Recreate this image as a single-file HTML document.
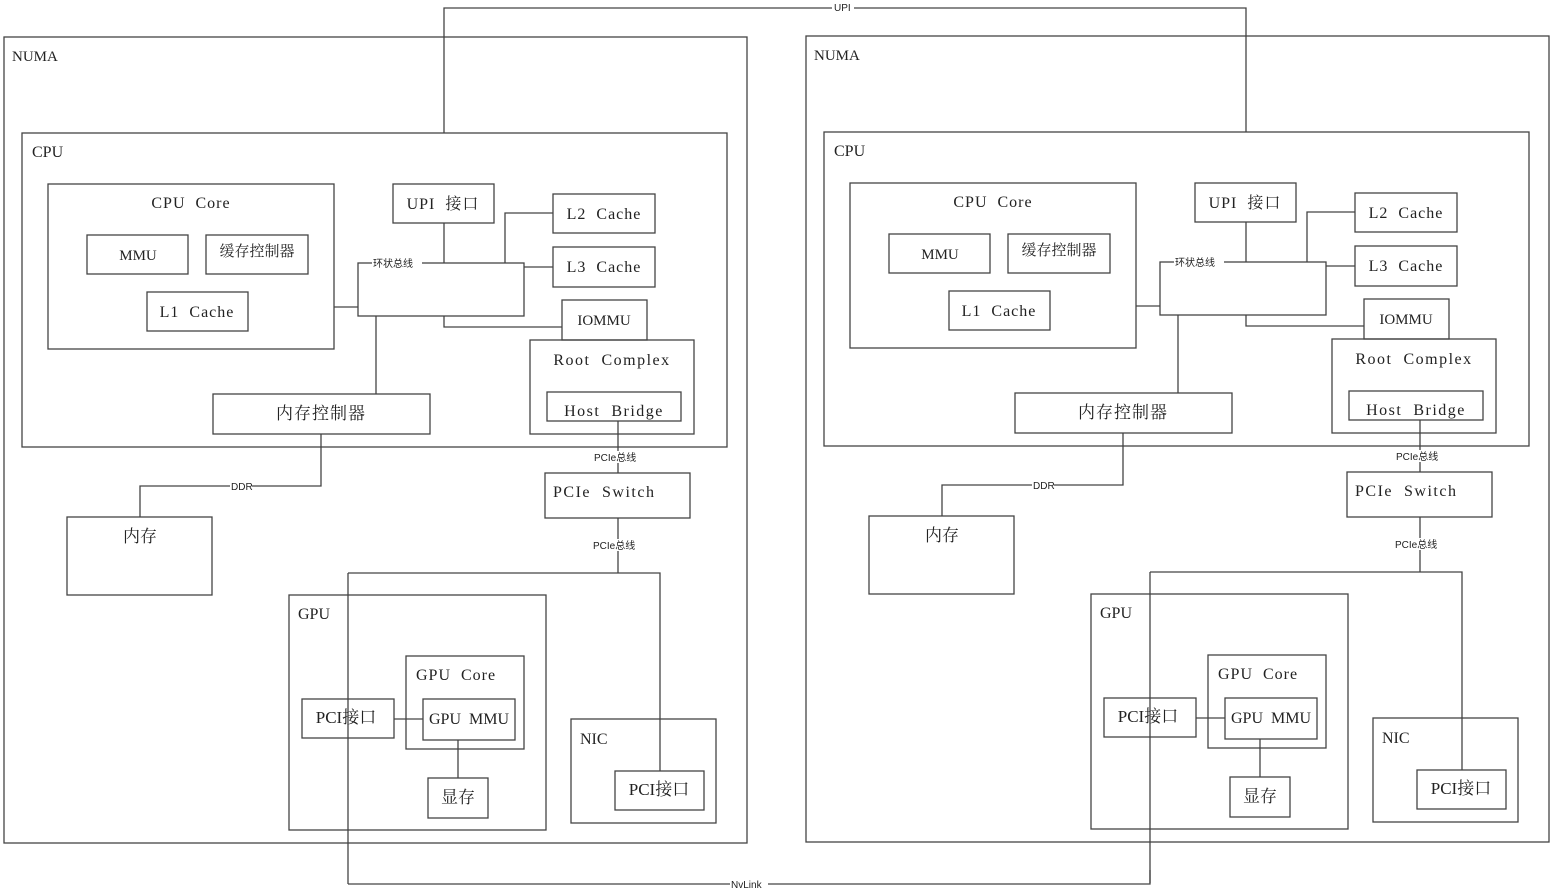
<!DOCTYPE html>
<html><head><meta charset="utf-8"><style>
html,body{margin:0;padding:0;background:#fff;}
svg{display:block;}
text{font-family:"Liberation Serif","Noto Serif CJK SC",serif;font-size:16px;fill:#222;white-space:pre;}
.s{font-size:10px;font-family:"Liberation Sans","Noto Sans CJK SC",sans-serif;}
.c{text-anchor:middle;}
rect,path,line{fill:none;stroke:#444;stroke-width:1.3;}
.bg{fill:#fff;stroke:none;}
</style></head><body>
<svg width="1552" height="893" viewBox="0 0 1552 893" xmlns="http://www.w3.org/2000/svg" xml:space="preserve">
<defs>
<g id="numa">
<rect x="4" y="37" width="743" height="806"/>
<text x="12" y="61" style="font-size:15px">NUMA</text>
<rect x="22" y="133" width="705" height="314"/>
<text x="32" y="157">CPU</text>
<rect x="48" y="184" width="286" height="165"/>
<text x="191" y="208" class="c" style="letter-spacing:1px">CPU  Core</text>
<rect x="87" y="235" width="101" height="39"/>
<text x="138" y="260" class="c" style="font-size:15px">MMU</text>
<rect x="206" y="235" width="102" height="39"/>
<text x="257" y="256" class="c" style="font-size:15px">缓存控制器</text>
<rect x="147" y="292" width="101" height="39"/>
<text x="197" y="317" class="c" style="letter-spacing:1px">L1  Cache</text>
<rect x="393" y="184" width="101" height="39"/>
<text x="443" y="209" class="c" style="letter-spacing:1px">UPI  接口</text>
<rect x="553" y="194" width="102" height="39"/>
<text x="604" y="219" class="c" style="letter-spacing:1px">L2  Cache</text>
<rect x="553" y="247" width="102" height="40"/>
<text x="604" y="272" class="c" style="letter-spacing:1px">L3  Cache</text>
<rect x="358" y="263" width="166" height="53"/>
<rect x="562" y="300" width="85" height="40"/>
<text x="604" y="325" class="c" style="font-size:15px">IOMMU</text>
<rect x="530" y="340" width="164" height="94"/>
<text x="612" y="365" class="c" style="letter-spacing:1.5px">Root  Complex</text>
<rect x="547" y="392" width="134" height="29"/>
<text x="614" y="416" class="c" style="letter-spacing:1.5px">Host  Bridge</text>
<rect x="213" y="394" width="217" height="40"/>
<text x="321" y="419" class="c" style="font-size:17px;letter-spacing:1px">内存控制器</text>
<rect x="545" y="473" width="145" height="45"/>
<text x="553" y="497" style="letter-spacing:1.5px">PCIe  Switch</text>
<rect x="67" y="517" width="145" height="78"/>
<text x="140" y="542" class="c" style="font-size:17px">内存</text>
<rect x="289" y="595" width="257" height="235"/>
<text x="298" y="619">GPU</text>
<rect x="406" y="656" width="118" height="93"/>
<text x="416" y="680" style="letter-spacing:1px">GPU  Core</text>
<rect x="423" y="699" width="92" height="41"/>
<text x="469" y="724" class="c">GPU  MMU</text>
<rect x="302" y="699" width="92" height="39"/>
<text x="346" y="723" class="c" style="font-size:17px">PCI接口</text>
<rect x="428" y="778" width="60" height="40"/>
<text x="458" y="803" class="c" style="font-size:17px">显存</text>
<rect x="571" y="719" width="145" height="104"/>
<text x="580" y="744">NIC</text>
<rect x="615" y="771" width="89" height="39"/>
<text x="659" y="795" class="c" style="font-size:17px">PCI接口</text>
<path d="M444 223V263M505 263V213H553M524 267H553M444 316V327H562M334 307H358M376 316V394M618 421V473M618 518V573M348 573H660V771M348 573V884M321 434V486H140V517M394 719H423M458 740V778"/>
<rect class="bg" x="372" y="257" width="50" height="12"/>
<text class="s" x="373" y="267">环状总线</text>
<rect class="bg" x="593" y="451" width="50" height="12"/>
<text class="s" x="594" y="461">PCIe总线</text>
<rect class="bg" x="593" y="539" width="50" height="12"/>
<text class="s" x="593" y="549">PCIe总线</text>
<rect class="bg" x="230" y="480" width="22" height="12"/>
<text class="s" x="231" y="490">DDR</text>
</g>
</defs>
<use href="#numa"/>
<use href="#numa" transform="translate(802,-1)"/>
<path d="M444 133V8H1246V132"/>
<path d="M348 884H1150V870"/>
<rect class="bg" x="832" y="2" width="22" height="12"/>
<text class="s" x="834" y="11">UPI</text>
<rect class="bg" x="730" y="878" width="38" height="12"/>
<text class="s" x="731" y="888">NvLink</text>
</svg>
</body></html>
